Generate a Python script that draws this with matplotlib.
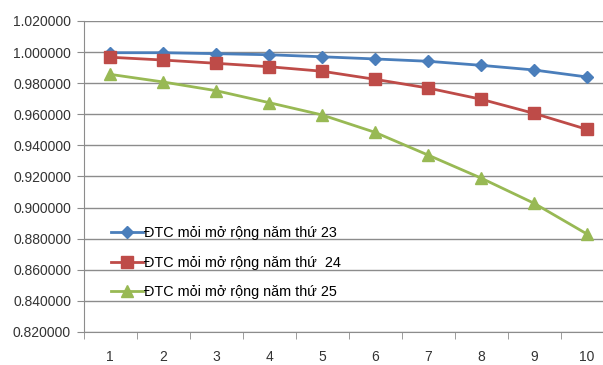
import numpy as np
import matplotlib.pyplot as plt
from matplotlib.ticker import FixedLocator, FormatStrFormatter

plt.rcParams['font.family'] = ['Liberation Sans', 'DejaVu Sans']

years = [1, 2, 3, 4, 5, 6, 7, 8, 9, 10]
dtc_23 = [0.9996, 0.9996, 0.9990, 0.9983, 0.9970, 0.9956, 0.9941, 0.9915, 0.9885, 0.9840]
dtc_24 = [0.9967, 0.9949, 0.9928, 0.9906, 0.9877, 0.9825, 0.9769, 0.9697, 0.9606, 0.9503]
dtc_25 = [0.9857, 0.9808, 0.9752, 0.9675, 0.9596, 0.9484, 0.9338, 0.9190, 0.9028, 0.8830]
labels = ['ĐTC mỏi mở rộng năm thứ 23',
          'ĐTC mỏi mở rộng năm thứ  24',
          'ĐTC mỏi mở rộng năm thứ 25']

fig = plt.figure(figsize=(6.03, 3.65), dpi=100)
# right edge sits past the figure border, so the last category is cut off
ax = fig.add_axes([83.5 / 603, 1 - 332 / 365, 530 / 603, 311 / 365])

x = np.arange(len(years))
ax.plot(x, dtc_23, color='#4A7EBB', lw=2, marker='D', ms=6.5, label=labels[0])
ax.plot(x, dtc_24, color='#BE4B48', lw=2, marker='s', ms=8, label=labels[1])
ax.plot(x, dtc_25, color='#98B954', lw=2, marker='^', ms=8.5, label=labels[2])

ax.set_xlim(-0.5, len(years) - 0.5)
ax.set_ylim(0.82, 1.02)
ax.set_yticks(np.arange(0.82, 1.0201, 0.02))
ax.yaxis.set_major_formatter(FormatStrFormatter('%.6f'))
ax.set_xticks(x)
ax.set_xticklabels([str(y) for y in years])
ax.xaxis.set_minor_locator(FixedLocator(np.arange(-0.5, len(years), 1)))

ax.grid(axis='y', color='#8C8C8C', lw=1)
ax.set_axisbelow(True)
for side in ['top', 'right']:
    ax.spines[side].set_visible(False)
for side in ['left', 'bottom']:
    ax.spines[side].set_color('#8C8C8C')
ax.tick_params(axis='y', length=5, color='#8C8C8C', labelsize=10, labelcolor='#333333', pad=4)
ax.tick_params(axis='x', which='major', length=0, labelsize=10, labelcolor='#333333', pad=13)
ax.tick_params(axis='x', which='minor', length=5, color='#8C8C8C')

ax.legend(loc='upper left', bbox_to_anchor=(0.038, 0.365), frameon=False, fontsize=10.4,
          handlelength=2.2, labelspacing=1.1, handletextpad=0.1, borderpad=0)

fig.savefig('out.png', dpi=100)
